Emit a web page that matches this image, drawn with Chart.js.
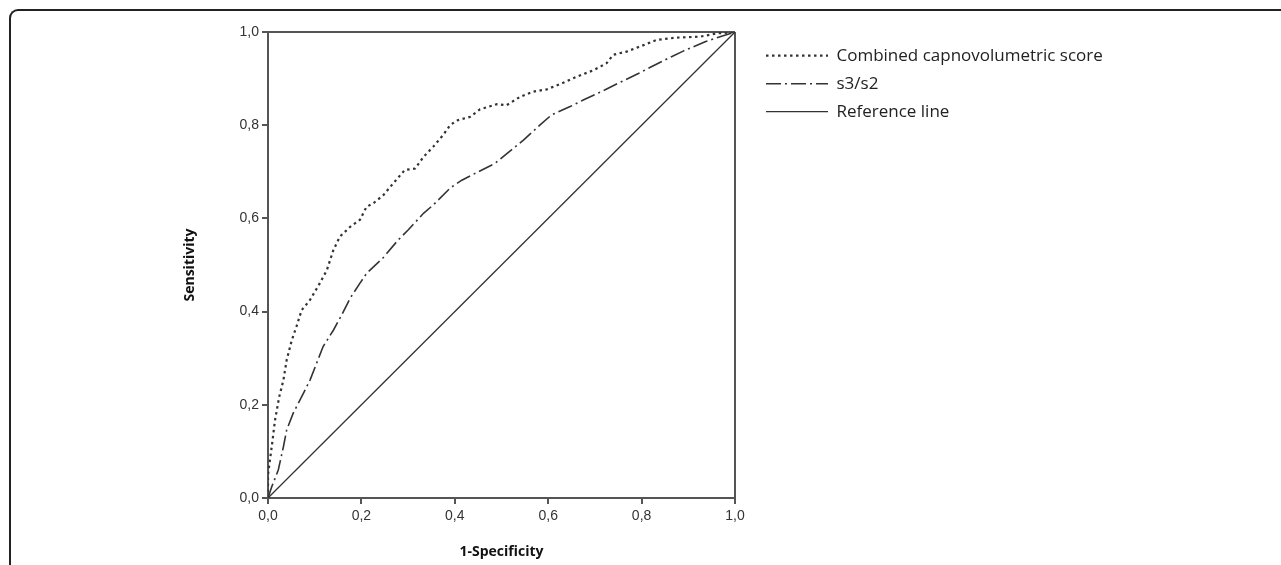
<!DOCTYPE html>
<html>
<head>
<meta charset="utf-8">
<script src="https://cdn.jsdelivr.net/npm/chart.js@4.4.0/dist/chart.umd.min.js"></script>
<style>
  html, body { margin: 0; padding: 0; background: #fff; overflow: hidden; }
  #wrap { position: relative; width: 1281px; height: 565px; }
  #frame {
    position: absolute; left: 9px; top: 9px; width: 1300px; height: 600px;
    border-left: 2px solid #222; border-top: 2px solid #222;
    border-top-left-radius: 9px; pointer-events: none;
  }
</style>
</head>
<body>
<div id="wrap">
  <canvas id="roc" width="1281" height="565"></canvas>
  <div id="frame"></div>
</div>
<script>
// data
const fpr_combined = [0, 0, 0.008, 0.015, 0.024, 0.033, 0.04, 0.051, 0.061, 0.072, 0.09, 0.111, 0.126, 0.14,
    0.154, 0.176, 0.197, 0.211, 0.225, 0.247, 0.268, 0.293, 0.315, 0.333, 0.354, 0.375, 0.39, 0.404, 0.433,
    0.454, 0.49, 0.511, 0.54, 0.568, 0.597, 0.632, 0.661, 0.697, 0.725, 0.739, 0.768, 0.797, 0.832, 0.875,
    0.925, 0.961, 1];
const tpr_combined = [0, 0.05, 0.11, 0.167, 0.217, 0.253, 0.296, 0.339, 0.368, 0.403, 0.425, 0.461, 0.489, 0.532,
    0.561, 0.582, 0.597, 0.625, 0.632, 0.65, 0.675, 0.704, 0.707, 0.732, 0.754, 0.779, 0.80, 0.81, 0.818,
    0.834, 0.845, 0.843, 0.861, 0.872, 0.877, 0.891, 0.904, 0.918, 0.933, 0.951, 0.958, 0.969, 0.983, 0.988,
    0.99, 0.997, 1];
const fpr_s3s2 = [0, 0.008, 0.022, 0.033, 0.04, 0.054, 0.076, 0.09, 0.104, 0.118, 0.14, 0.158, 0.176, 0.197,
    0.211, 0.247, 0.279, 0.3, 0.333, 0.354, 0.39, 0.415, 0.458, 0.486, 0.525, 0.547, 0.582, 0.607, 0.647,
    0.675, 0.722, 0.75, 0.793, 0.822, 0.864, 0.889, 0.936, 0.968, 1];
const tpr_s3s2 = [0, 0.024, 0.06, 0.11, 0.146, 0.182, 0.225, 0.253, 0.289, 0.325, 0.36, 0.393, 0.429, 0.461,
    0.482, 0.516, 0.554, 0.575, 0.611, 0.629, 0.665, 0.682, 0.704, 0.718, 0.75, 0.768, 0.80, 0.822, 0.84,
    0.854, 0.876, 0.89, 0.911, 0.926, 0.947, 0.959, 0.979, 0.99, 1];
const ref_x = [0, 1];
const ref_y = [0, 1];
const series_names = ['Combined capnovolumetric score', 's3/s2', 'Reference line'];
const tick_values = [0, 0.2, 0.4, 0.6, 0.8, 1.0];

const ink = '#333333';
const frameInk = '#555555';

// layout targets (plot box edges in the picture)
const plot_right = 735;
const legend_gap = 20;
const legend_pad = 11;
const legend_line = 62;
const legend_font = {family: '"Open Sans", sans-serif', size: 17};

function toPoints(xs, ys){
    return xs.map((x, i) => ({x: x, y: ys[i]}));
}

function commaTick(value){
    return Number(value).toFixed(1).replace('.', ',');
}

function edgeOnly(ctx){
    const v = ctx.tick ? ctx.tick.value : null;
    return (v === 0 || Math.abs(v - 1) < 1e-9) ? frameInk : 'rgba(0,0,0,0)';
}

function legendLabels(chart){
    const items = Chart.defaults.plugins.legend.labels.generateLabels(chart);
    items.forEach(item => {
        const ds = chart.data.datasets[item.datasetIndex];
        item.lineDash = ds.borderDash;
        item.lineWidth = ds.borderWidth;
        item.strokeStyle = ds.borderColor;
        item.pointStyle = 'line';
    });
    return items;
}

const base = {
    showLine: true,
    fill: false,
    pointRadius: 0,
    pointHoverRadius: 0,
    pointStyle: 'line',
    borderColor: ink,
    backgroundColor: ink,
    tension: 0
};

const data = {
    datasets: [
        Object.assign({}, base, {label: series_names[0], data: toPoints(fpr_combined, tpr_combined),
            borderWidth: 2.2, borderDash: [2.5, 3.5]}),
        Object.assign({}, base, {label: series_names[1], data: toPoints(fpr_s3s2, tpr_s3s2),
            borderWidth: 1.6, borderDash: [15, 4, 2, 4]}),
        Object.assign({}, base, {label: series_names[2], data: toPoints(ref_x, ref_y),
            borderWidth: 1.3, borderDash: []})
    ]
};

const tickFont = {family: '"Liberation Sans", Arial, sans-serif', size: 14};
const titleFont = {family: '"Open Sans", sans-serif', size: 14, weight: 'bold'};

const config = {
    type: 'scatter',
    data: data,
    options: {
        responsive: false,
        animation: false,
        layout: {padding: {left: 178, top: 32, bottom: 5, right: 150}},
        plugins: {
            tooltip: {enabled: false},
            legend: {
                position: 'right',
                align: 'start',
                maxWidth: 600,
                // empty title only used as a small top offset for the rows
                title: {display: true, text: '', font: {size: 1}, padding: {top: 3, bottom: 0}},
                labels: {
                    usePointStyle: true,
                    pointStyleWidth: legend_line,
                    padding: legend_pad,
                    color: '#222',
                    font: legend_font,
                    generateLabels: legendLabels
                }
            }
        },
        scales: {
            x: {
                type: 'linear',
                min: 0, max: 1,
                afterBuildTicks: (s) => { s.ticks = tick_values.map(v => ({value: v})); },
                afterFit: (s) => { s.height = 62; },
                ticks: {callback: commaTick, color: '#333', font: tickFont, padding: 4},
                grid: {color: edgeOnly, lineWidth: 2, tickColor: frameInk, tickLength: 6},
                border: {color: frameInk, width: 2},
                title: {display: true, text: '1-Specificity', color: '#111', font: titleFont,
                    padding: {top: 0, bottom: 0}}
            },
            y: {
                type: 'linear',
                min: 0, max: 1,
                afterBuildTicks: (s) => { s.ticks = tick_values.map(v => ({value: v})); },
                afterFit: (s) => { s.width = 90; },
                ticks: {callback: commaTick, color: '#333', font: tickFont, padding: 3},
                grid: {color: edgeOnly, lineWidth: 2, tickColor: frameInk, tickLength: 6},
                border: {color: frameInk, width: 2},
                title: {display: true, text: 'Sensitivity', color: '#111', font: titleFont,
                    padding: {top: 4, bottom: 0}}
            },
            spacer: {
                type: 'linear',
                position: 'right',
                display: true,
                afterFit: (s) => { s.width = legend_gap; },
                ticks: {display: false},
                grid: {display: false},
                border: {display: false}
            }
        }
    }
};

window.onload = function() {
    const chart = new Chart(document.getElementById('roc'), config);
    // nudge the right padding so the plot box ends where it does in the picture
    const diff = chart.chartArea.right - plot_right;
    if (Math.abs(diff) > 0.5) {
        chart.options.layout.padding.right = Math.max(0, chart.options.layout.padding.right + diff);
        chart.update();
    }
    console.log(JSON.stringify(chart.chartArea));
};
</script>
</body>
</html>
